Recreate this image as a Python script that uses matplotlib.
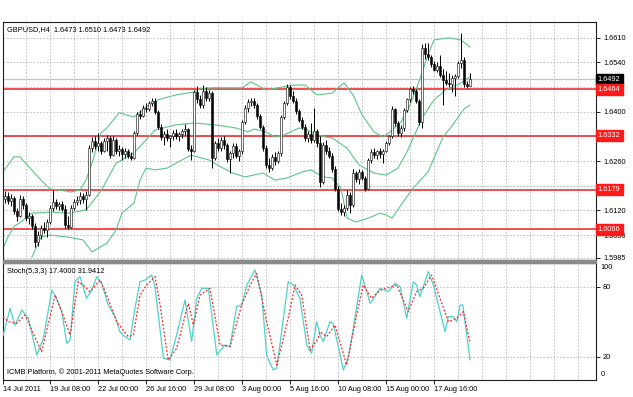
import matplotlib
matplotlib.use('Agg')
import matplotlib.pyplot as plt
import matplotlib.transforms as mtransforms
import numpy as np

# GBPUSD H4 candles, 14 Jul 16:00 .. 19 Aug 16:00
opens = [1.6135, 1.6152, 1.6160, 1.6148, 1.6155, 1.6118, 1.6105, 1.6152, 1.6135, 1.6098,
         1.6105, 1.6075, 1.6030, 1.6050, 1.6070, 1.6065, 1.6088, 1.6128, 1.6145, 1.6132,
         1.6138, 1.6125, 1.6078, 1.6074, 1.6128, 1.6145, 1.6150, 1.6160, 1.6152, 1.6165,
         1.6297, 1.6318, 1.6303, 1.6310, 1.6290, 1.6318, 1.6325, 1.6278, 1.6320, 1.6288,
         1.6295, 1.6280, 1.6290, 1.6275, 1.6270, 1.6340, 1.6395, 1.6388, 1.6412, 1.6408,
         1.6425, 1.6432, 1.6400, 1.6358, 1.6328, 1.6338, 1.6325, 1.6330, 1.6340, 1.6330,
         1.6338, 1.6345, 1.6350, 1.6295, 1.6290, 1.6455, 1.6435, 1.6418, 1.6460, 1.6440,
         1.6452, 1.6270, 1.6310, 1.6298, 1.6320, 1.6305, 1.6265, 1.6282, 1.6302, 1.6275,
         1.6288, 1.6370, 1.6412, 1.6428, 1.6432, 1.6418, 1.6388, 1.6358, 1.6298, 1.6248,
         1.6240, 1.6272, 1.6260, 1.6282, 1.6385, 1.6425, 1.6470, 1.6445, 1.6432, 1.6402,
         1.6378, 1.6358, 1.6325, 1.6338, 1.6320, 1.6345, 1.6310, 1.6200, 1.6305, 1.6288,
         1.6275, 1.6238, 1.6182, 1.6125, 1.6115, 1.6128, 1.6165, 1.6135, 1.6225, 1.6210,
         1.6228, 1.6212, 1.6182, 1.6262, 1.6285, 1.6278, 1.6288, 1.6280, 1.6290, 1.6312,
         1.6330, 1.6408, 1.6368, 1.6340, 1.6355, 1.6405, 1.6435, 1.6465, 1.6458, 1.6430,
         1.6370, 1.6580, 1.6565, 1.6555, 1.6535, 1.6520, 1.6530, 1.6505, 1.6490, 1.6482,
         1.6478, 1.6495, 1.6502, 1.6538, 1.6548, 1.6478, 1.6473]
highs = [1.6170, 1.6175, 1.6172, 1.6166, 1.6160, 1.6128, 1.6165, 1.6160, 1.6140, 1.6115,
         1.6110, 1.6085, 1.6060, 1.6078, 1.6088, 1.6095, 1.6135, 1.6178, 1.6152, 1.6145,
         1.6148, 1.6135, 1.6105, 1.6135, 1.6152, 1.6162, 1.6172, 1.6168, 1.6175, 1.6305,
         1.6328, 1.6332, 1.6340, 1.6318, 1.6325, 1.6335, 1.6330, 1.6330, 1.6325, 1.6305,
         1.6300, 1.6298, 1.6295, 1.6285, 1.6345, 1.6400, 1.6405, 1.6418, 1.6425, 1.6430,
         1.6440, 1.6438, 1.6405, 1.6365, 1.6345, 1.6350, 1.6335, 1.6348, 1.6350, 1.6342,
         1.6352, 1.6365, 1.6355, 1.6305, 1.6462, 1.6472, 1.6448, 1.6476, 1.6470, 1.6462,
         1.6458, 1.6318, 1.6325, 1.6328, 1.6330, 1.6312, 1.6290, 1.6310, 1.6312, 1.6295,
         1.6378, 1.6418, 1.6435, 1.6440, 1.6438, 1.6425, 1.6395, 1.6362, 1.6305, 1.6270,
         1.6280, 1.6285, 1.6290, 1.6390, 1.6430, 1.6478, 1.6476, 1.6460, 1.6440, 1.6408,
         1.6385, 1.6365, 1.6345, 1.6368, 1.6410, 1.6352, 1.6330, 1.6315, 1.6320, 1.6300,
         1.6282, 1.6245, 1.6190, 1.6140, 1.6135, 1.6178, 1.6172, 1.6238, 1.6232, 1.6238,
         1.6235, 1.6218, 1.6268, 1.6295, 1.6298, 1.6292, 1.6298, 1.6295, 1.6318, 1.6335,
         1.6415, 1.6412, 1.6375, 1.6362, 1.6412, 1.6440, 1.6470, 1.6472, 1.6465, 1.6435,
         1.6592, 1.6596, 1.6595, 1.6562, 1.6545, 1.6540, 1.6562, 1.6522, 1.6515, 1.6510,
         1.6505, 1.6508, 1.6545, 1.6624, 1.6555, 1.6488, 1.6510]
lows = [1.6118, 1.6140, 1.6138, 1.6132, 1.6110, 1.6090, 1.6100, 1.6125, 1.6090, 1.6082,
        1.6068, 1.6015, 1.6020, 1.6040, 1.6055, 1.6045, 1.6080, 1.6118, 1.6125, 1.6122,
        1.6118, 1.6070, 1.6066, 1.6070, 1.6120, 1.6135, 1.6138, 1.6140, 1.6120, 1.6160,
        1.6285, 1.6295, 1.6290, 1.6280, 1.6285, 1.6290, 1.6268, 1.6275, 1.6280, 1.6275,
        1.6262, 1.6270, 1.6268, 1.6262, 1.6265, 1.6335, 1.6380, 1.6385, 1.6400, 1.6402,
        1.6415, 1.6395, 1.6352, 1.6320, 1.6305, 1.6318, 1.6300, 1.6320, 1.6322, 1.6318,
        1.6325, 1.6335, 1.6288, 1.6262, 1.6285, 1.6425, 1.6410, 1.6412, 1.6430, 1.6430,
        1.6240, 1.6262, 1.6290, 1.6290, 1.6295, 1.6258, 1.6226, 1.6270, 1.6268, 1.6260,
        1.6280, 1.6365, 1.6400, 1.6415, 1.6410, 1.6380, 1.6352, 1.6290, 1.6240, 1.6228,
        1.6235, 1.6250, 1.6255, 1.6275, 1.6380, 1.6418, 1.6435, 1.6425, 1.6395, 1.6370,
        1.6350, 1.6318, 1.6315, 1.6310, 1.6315, 1.6300, 1.6185, 1.6195, 1.6280, 1.6268,
        1.6230, 1.6175, 1.6118, 1.6108, 1.6105, 1.6120, 1.6112, 1.6130, 1.6200, 1.6195,
        1.6205, 1.6175, 1.6178, 1.6255, 1.6268, 1.6265, 1.6270, 1.6255, 1.6285, 1.6305,
        1.6325, 1.6360, 1.6332, 1.6328, 1.6345, 1.6398, 1.6428, 1.6450, 1.6425, 1.6362,
        1.6355, 1.6550, 1.6548, 1.6528, 1.6515, 1.6512, 1.6500, 1.6418, 1.6475, 1.6470,
        1.6455, 1.6445, 1.6495, 1.6525, 1.6470, 1.6468, 1.6473]
closes = [1.6152, 1.6160, 1.6148, 1.6155, 1.6118, 1.6105, 1.6152, 1.6135, 1.6098, 1.6105,
          1.6075, 1.6030, 1.6050, 1.6070, 1.6065, 1.6088, 1.6128, 1.6145, 1.6132, 1.6138,
          1.6125, 1.6078, 1.6074, 1.6128, 1.6145, 1.6150, 1.6160, 1.6152, 1.6165, 1.6297,
          1.6318, 1.6303, 1.6310, 1.6290, 1.6318, 1.6325, 1.6278, 1.6320, 1.6288, 1.6295,
          1.6280, 1.6290, 1.6275, 1.6270, 1.6340, 1.6395, 1.6388, 1.6412, 1.6408, 1.6425,
          1.6432, 1.6400, 1.6358, 1.6328, 1.6338, 1.6325, 1.6330, 1.6340, 1.6330, 1.6338,
          1.6345, 1.6350, 1.6295, 1.6290, 1.6455, 1.6435, 1.6418, 1.6460, 1.6440, 1.6452,
          1.6270, 1.6310, 1.6298, 1.6320, 1.6305, 1.6265, 1.6282, 1.6302, 1.6275, 1.6288,
          1.6370, 1.6412, 1.6428, 1.6432, 1.6418, 1.6388, 1.6358, 1.6298, 1.6248, 1.6240,
          1.6272, 1.6260, 1.6282, 1.6385, 1.6425, 1.6470, 1.6445, 1.6432, 1.6402, 1.6378,
          1.6358, 1.6325, 1.6338, 1.6320, 1.6345, 1.6310, 1.6200, 1.6305, 1.6288, 1.6275,
          1.6238, 1.6182, 1.6125, 1.6115, 1.6128, 1.6165, 1.6135, 1.6225, 1.6210, 1.6228,
          1.6212, 1.6182, 1.6262, 1.6285, 1.6278, 1.6288, 1.6280, 1.6290, 1.6312, 1.6330,
          1.6408, 1.6368, 1.6340, 1.6355, 1.6405, 1.6435, 1.6465, 1.6458, 1.6430, 1.6370,
          1.6580, 1.6565, 1.6555, 1.6535, 1.6520, 1.6530, 1.6505, 1.6490, 1.6482, 1.6478,
          1.6495, 1.6502, 1.6538, 1.6548, 1.6478, 1.6473, 1.6492]

# Bollinger bands as drawn on the chart (bar index, price)
bb_up_bar = [0, 4, 6, 9, 13, 16, 19, 23, 26, 28, 30, 33, 35, 39, 44, 48, 52, 58, 64, 66,
             70, 80, 83, 88, 92, 97, 101, 105, 110, 114, 117, 120, 124, 127, 129, 133, 136,
             139, 142, 144, 149, 153, 156]
bb_up = [1.6226, 1.6272, 1.6272, 1.6243, 1.6206, 1.6181, 1.6178, 1.6172, 1.6178, 1.6206,
         1.6254, 1.6340, 1.6354, 1.6397, 1.6385, 1.6414, 1.6434, 1.6448, 1.6456, 1.6465,
         1.6468, 1.6468, 1.6485, 1.6462, 1.6468, 1.6476, 1.6476, 1.6448, 1.6453, 1.6482,
         1.6448, 1.6391, 1.6343, 1.6328, 1.6340, 1.6371, 1.6419, 1.6485, 1.6562, 1.6604,
         1.6610, 1.6604, 1.6584]
bb_mid_bar = [0, 2, 4, 6, 10, 16, 22, 28, 33, 38, 44, 48, 51, 58, 64, 71, 78, 82, 84, 88,
              91, 94, 99, 102, 105, 108, 110, 115, 119, 124, 128, 132, 135, 138, 140, 144,
              148, 153, 156]
bb_mid = [1.6005, 1.6045, 1.6075, 1.6085, 1.6112, 1.6115, 1.6112, 1.6121, 1.6175, 1.6254,
          1.6283, 1.6320, 1.6348, 1.6363, 1.6368, 1.6363, 1.6354, 1.6343, 1.6351, 1.6343,
          1.6328, 1.6334, 1.6354, 1.6348, 1.6334, 1.6328, 1.6326, 1.6297, 1.6249, 1.6226,
          1.6220, 1.6240, 1.6286, 1.6343, 1.6382, 1.6434, 1.6462, 1.6482, 1.6499]
bb_low_bar = [10, 13, 16, 22, 27, 30, 35, 38, 40, 44, 46, 48, 51, 55, 58, 63, 69, 73, 77,
              81, 87, 91, 95, 100, 103, 107, 110, 113, 115, 118, 123, 126, 128, 130, 133,
              137, 142, 147, 150, 154, 156]
bb_low = [1.5988, 1.6044, 1.6050, 1.6044, 1.6036, 1.6002, 1.6027, 1.6064, 1.6112, 1.6141,
          1.6206, 1.6240, 1.6235, 1.6240, 1.6254, 1.6277, 1.6263, 1.6243, 1.6226, 1.6215,
          1.6226, 1.6206, 1.6212, 1.6229, 1.6235, 1.6215, 1.6212, 1.6183, 1.6098, 1.6087,
          1.6101, 1.6112, 1.6107, 1.6098, 1.6135, 1.6183, 1.6229, 1.6328, 1.6360, 1.6408,
          1.6419]

# Stochastic(5,3,3)
stoch_k_bar = [0.4, 2.7, 4.3, 6.6, 8.8, 11.6, 13.8, 16.6, 18.2, 19.9, 21.6, 22.7, 24.3, 26,
               28.2, 29.9, 31.6, 33.2, 35.4, 37.7, 39.3, 41, 42.7, 44.3, 46, 47.7, 49.9, 51,
               53.8, 56, 58.2, 61, 63.2, 64.9, 66.6, 68.8, 71.6, 74.3, 76, 78.2, 79.9, 81.6,
               84.3, 86.6, 88.2, 90.4, 91.6, 93.2, 95.4, 97.1, 99.3, 101.6, 103.2, 104.9,
               106, 107.1, 109.3, 110.4, 113.8, 115.4, 117.1, 119.9, 121.6, 122.7, 124.3,
               126, 128.8, 131, 132.7, 134.9, 137.1, 138.2, 139.3, 142.1, 143.8, 147.7,
               148.8, 150.4, 151.6, 152.7, 153.6, 156]
stoch_k = [38.6, 61.4, 47, 60, 52.9, 21.4, 35.7, 77, 70, 58.6, 31.4, 34.3, 84.3, 88.6, 70,
           77, 88.6, 82.9, 64.3, 54.3, 41.4, 37.1, 34.3, 61.4, 84.3, 85.7, 90, 80, 18.6,
           17.1, 38.6, 68.6, 32.9, 70, 78.6, 78.6, 21.4, 30, 28.6, 62.9, 64.3, 81.4, 94.3,
           72.8, 21.4, 8.6, 10, 41.4, 84.3, 81.4, 70, 30, 22.9, 50, 38.6, 32.9, 50, 48.6,
           8.6, 18.6, 44.3, 90, 75.7, 65.7, 71.4, 78.6, 75.7, 82.9, 80, 52.9, 84.3, 81.4,
           71.4, 92.9, 81.4, 41.4, 54.3, 54.3, 50, 64.3, 64.3, 17.4]
stoch_d_bar = [0.4, 2.1, 4.9, 7.7, 10.4, 13.2, 17.7, 19.9, 22.7, 25.4, 27.7, 29.3, 32.7,
               34.9, 38.2, 42.1, 43.8, 46, 48.2, 51, 52.7, 55.4, 58.2, 62.1, 63.8, 66, 69.3,
               72.7, 76, 79.9, 82.7, 84.9, 88.2, 91.6, 94.9, 97.7, 99.9, 102.7, 105.4, 106,
               108.2, 111, 114.9, 118.2, 120.4, 123.2, 126, 131.6, 135.4, 138.2, 140.4,
               143.2, 146, 148.8, 151.6, 153.8, 156]
stoch_d = [54.3, 50, 48.6, 55.7, 40, 24.3, 72.8, 58.6, 38.6, 84.3, 80, 75.7, 85.7, 72.8, 50,
           37.1, 38.6, 72.8, 81.4, 88.6, 64.3, 17.1, 27.1, 65.7, 47.1, 72.8, 78.6, 30, 28.6,
           64.3, 81.4, 91.4, 50, 12.9, 47.1, 81.4, 72.8, 25.7, 35.7, 41.4, 37.1, 47.1, 12.9,
           55.7, 81.4, 70, 77, 81.4, 58.6, 75.7, 78.6, 90, 70, 50, 52.9, 58.6, 31.9412]

# grid levels; the ones under the level boxes carry no visible label
price_ticks = [1.6610, 1.6540, 1.6470, 1.6400, 1.6330, 1.6260, 1.6190, 1.6120, 1.6050, 1.5985]
price_labels = ['1.6610', '1.6540', '', '1.6400', '', '1.6260', '', '1.6120', '1.6050', '1.5985']
levels = [1.6464, 1.6332, 1.6179, 1.6066]
bid = 1.6492
date_bars = [0.4, 16, 32, 48, 64, 80, 96, 112, 128, 144]
date_labels = ['14 Jul 2011', '19 Jul 08:00', '22 Jul 00:00', '26 Jul 16:00', '29 Jul 08:00',
               '3 Aug 00:00', '5 Aug 16:00', '10 Aug 08:00', '15 Aug 00:00', '17 Aug 16:00']

FONT = 'Liberation Sans'
FS = 5.3
GRID = dict(color='#b8b8b8', lw=0.6, ls=(0, (2, 2)), zorder=0)
BAND = '#5cc48c'

fig = plt.figure(figsize=(6.33, 3.97), dpi=100)
ax = fig.add_axes([3 / 633, 1 - 260 / 397, 593 / 633, 238 / 397])
ax2 = fig.add_axes([3 / 633, 1 - 380 / 397, 593 / 633, 117 / 397])

x = np.arange(len(closes))
xlim = (0.33, 198)

# ---- price panel
for gx in range(8, 198, 8):
    ax.axvline(gx, **GRID)
    ax2.axvline(gx, **GRID)
for p in price_ticks:
    ax.axhline(p, **GRID)

ax.axhline(bid, color='#c4c4c4', lw=0.9, zorder=1)
for lv in levels:
    ax.axhline(lv, color='#ee3030', lw=1.2, zorder=1.5)

ax.plot(bb_up_bar, bb_up, color=BAND, lw=0.8, zorder=2)
ax.plot(bb_mid_bar, bb_mid, color=BAND, lw=0.8, zorder=2)
ax.plot(bb_low_bar, bb_low, color=BAND, lw=0.8, zorder=2)

o = np.array(opens)
c = np.array(closes)
ax.vlines(x, lows, highs, color='black', lw=0.7, zorder=3)
body = np.maximum(np.abs(c - o), 0.00008)
fill = ['white' if cc >= oo else 'black' for oo, cc in zip(o, c)]
ax.bar(x, body, bottom=np.minimum(o, c), width=0.72, color=fill,
       edgecolor='black', linewidth=0.4, zorder=4)

ax.set_xlim(*xlim)
ax.set_ylim(1.5979, 1.6655)
ax.set_xticks([])
ax.yaxis.tick_right()
ax.set_yticks(price_ticks)
ax.set_yticklabels(price_labels, fontsize=FS, family=FONT)
ax.tick_params(axis='y', length=3, width=0.6, pad=2)

tr = mtransforms.blended_transform_factory(ax.transAxes, ax.transData)
ax.text(1.003, bid, '%.4f' % bid, transform=tr, fontsize=FS, family=FONT, color='white',
        va='center', ha='left', zorder=20, clip_on=False,
        bbox=dict(boxstyle='square,pad=0.3', fc='black', ec='black'))
for lv in levels:
    ax.text(1.003, lv, '%.4f' % lv, transform=tr, fontsize=FS, family=FONT, color='white',
            va='center', ha='left', zorder=20, clip_on=False,
            bbox=dict(boxstyle='square,pad=0.3', fc='#ff1a1a', ec='#ff1a1a'))

ax.text(0.006, 0.985, 'GBPUSD,H4  1.6473 1.6510 1.6473 1.6492', transform=ax.transAxes,
        fontsize=FS, family=FONT, va='top', ha='left')

# ---- stochastic panel
for lv in (20, 80):
    ax2.axhline(lv, **GRID)
ax2.plot(stoch_k_bar, stoch_k, color='#4fd2c8', lw=0.9, zorder=3)
ax2.plot(stoch_d_bar, stoch_d, color='#ff2020', lw=0.9, ls=(0, (1.5, 1.5)), zorder=4)
ax2.set_xlim(*xlim)
ax2.set_ylim(0, 100.3)
ax2.yaxis.tick_right()
ax2.set_yticks([20, 80])
ax2.set_yticklabels(['20', '80'], fontsize=FS, family=FONT)
ax2.tick_params(axis='y', length=3, width=0.6, pad=2)
tr2 = mtransforms.blended_transform_factory(ax2.transAxes, ax2.transData)
ax2.text(1.008, 96.3, '100', transform=tr2, fontsize=FS, family=FONT,
         va='center', ha='left', clip_on=False)
ax2.text(1.008, 4.3, '0', transform=tr2, fontsize=FS, family=FONT,
         va='center', ha='left', clip_on=False)
ax2.set_xticks(date_bars)
ax2.set_xticklabels(date_labels, fontsize=FS, family=FONT, ha='left')
ax2.tick_params(axis='x', length=3, width=0.6, pad=1.5)
ax2.text(0.006, 0.96, 'Stoch(5,3,3) 17.4000 31.9412', transform=ax2.transAxes,
         fontsize=FS, family=FONT, va='top', ha='left')
ax2.text(0.006, 0.03, 'ICMB Platform, \u00a9 2001-2011 MetaQuotes Software Corp.',
         transform=ax2.transAxes, fontsize=FS, family=FONT, va='bottom', ha='left')

for a in (ax, ax2):
    for s in a.spines.values():
        s.set_color('#202020')
        s.set_linewidth(0.8)

# grey divider between the two panels
fig.patches.append(plt.Rectangle((3 / 633, 1 - 263 / 397), 593 / 633, 3 / 397,
                                 transform=fig.transFigure, color='#8a8a8a', zorder=5))

fig.savefig('out.png', dpi=100)
